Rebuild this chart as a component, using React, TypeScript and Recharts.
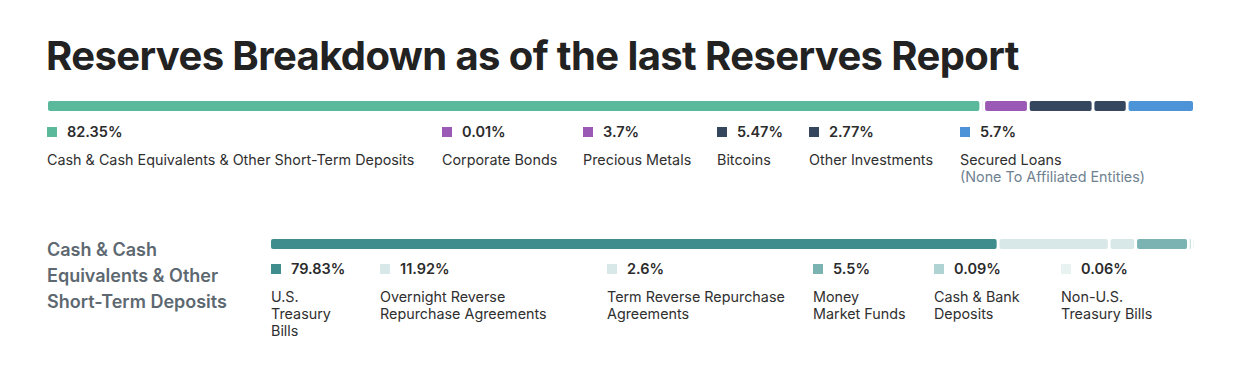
import React from "react";
import { BarChart, Bar, XAxis, YAxis } from "recharts";

const reserveKeys = ["cash", "corporate", "metals", "bitcoin", "other", "loans"];
const reserveShares = [82.35, 0.01, 3.7, 5.47, 2.77, 5.7];
const reserveColors = ["#5ab99b", "#9b59b6", "#9b59b6", "#34475e", "#34475e", "#4c93d8"];
const reserveLabels = [
  ["Cash & Cash Equivalents & Other Short-Term Deposits"],
  ["Corporate Bonds"],
  ["Precious Metals"],
  ["Bitcoins"],
  ["Other Investments"],
  ["Secured Loans"],
];
const reserveNotes = ["", "", "", "", "", "(None To Affiliated Entities)"];
const reserveLegendX = [47, 442, 583, 717, 809, 960];

const cashKeys = ["tbills", "overnight", "term", "mmf", "bank", "nonus"];
const cashShares = [79.83, 11.92, 2.6, 5.5, 0.09, 0.06];
const cashColors = ["#3f8e8d", "#d8e8e8", "#d8e8e8", "#7bb3b3", "#aed3d2", "#e8f2f1"];
const cashLabels = [
  ["U.S.", "Treasury", "Bills"],
  ["Overnight Reverse", "Repurchase Agreements"],
  ["Term Reverse Repurchase", "Agreements"],
  ["Money", "Market Funds"],
  ["Cash & Bank", "Deposits"],
  ["Non-U.S.", "Treasury Bills"],
];
const cashLegendX = [271, 380, 607, 813, 934, 1061];

const FONT = "Inter, 'Noto Sans', sans-serif";
const GAP = 2.8;

function toRow(keys: string[], values: number[]) {
  const row: Record<string, number | string> = { name: "total" };
  keys.forEach((k, i) => (row[k] = values[i]));
  return [row];
}

// flex-like gaps between segments, still positioned from the chart's scale
function gapShape(index: number, count: number, total: number) {
  const s = (total - (count - 1) * GAP) / total;
  return (props: any) => {
    const { x, y, width, height, fill } = props;
    const w = width * s;
    if (!(w > 0)) return <g />;
    return (
      <rect x={x * s + index * GAP} y={y} width={w} height={height} rx={Math.min(2, w / 2)} fill={fill} />
    );
  };
}

function StackBar({ keys, values, colors, width, left, top }: any) {
  const data = toRow(keys, values);
  return (
    <div style={{ position: "absolute", left, top }}>
      <BarChart
        width={width}
        height={10}
        data={data}
        layout="vertical"
        margin={{ top: 0, right: 0, bottom: 0, left: 0 }}
        barCategoryGap={0}
      >
        <XAxis type="number" domain={[0, 100]} hide />
        <YAxis type="category" dataKey="name" hide />
        {keys.map((k: string, i: number) => (
          <Bar
            key={k}
            dataKey={k}
            stackId="a"
            fill={colors[i]}
            isAnimationActive={false}
            shape={gapShape(i, keys.length, width)}
          />
        ))}
      </BarChart>
    </div>
  );
}

function LegendItem({ x, squareTop, valueTop, labelTop, color, value, lines, note }: any) {
  return (
    <>
      <div
        style={{ position: "absolute", left: x, top: squareTop, width: 10, height: 10, background: color }}
      />
      <div
        style={{
          position: "absolute",
          left: x + 20,
          top: valueTop,
          lineHeight: "18px",
          fontSize: 14.5,
          fontWeight: 600,
          color: "#2b2b2b",
          whiteSpace: "nowrap",
        }}
      >
        {value}%
      </div>
      <div
        style={{
          position: "absolute",
          left: x,
          top: labelTop,
          lineHeight: "17px",
          fontSize: 14.35,
          color: "#2f2f2f",
          whiteSpace: "nowrap",
        }}
      >
        {lines.map((l: string) => (
          <div key={l}>{l}</div>
        ))}
        {note ? <div style={{ color: "#6f8291" }}>{note}</div> : null}
      </div>
    </>
  );
}

export default function App() {
  return (
    <div
      style={{
        position: "absolute",
        left: 0,
        top: 0,
        width: 1235,
        height: 371,
        background: "#fff",
        fontFamily: FONT,
        overflow: "hidden",
      }}
    >
      <div
        style={{
          position: "absolute",
          left: 46,
          top: 32,
          lineHeight: "48px",
          fontSize: 40,
          fontWeight: 700,
          color: "#222",
          letterSpacing: -0.6,
          whiteSpace: "nowrap",
        }}
      >
        Reserves Breakdown as of the last Reserves Report
      </div>

      <StackBar keys={reserveKeys} values={reserveShares} colors={reserveColors} width={1145} left={48} top={101} />
      {reserveKeys.map((k, i) => (
        <LegendItem
          key={k}
          x={reserveLegendX[i]}
          squareTop={127}
          valueTop={123}
          labelTop={151}
          color={reserveColors[i]}
          value={reserveShares[i]}
          lines={reserveLabels[i]}
          note={reserveNotes[i]}
        />
      ))}

      <div
        style={{
          position: "absolute",
          left: 47,
          top: 237,
          lineHeight: "26px",
          fontSize: 18,
          fontWeight: 600,
          color: "#5d6871",
          whiteSpace: "nowrap",
        }}
      >
        <div>Cash &amp; Cash</div>
        <div>Equivalents &amp; Other</div>
        <div>Short-Term Deposits</div>
      </div>

      <StackBar keys={cashKeys} values={cashShares} colors={cashColors} width={923} left={271} top={239} />
      {cashKeys.map((k, i) => (
        <LegendItem
          key={k}
          x={cashLegendX[i]}
          squareTop={264}
          valueTop={260}
          labelTop={288}
          color={cashColors[i]}
          value={cashShares[i]}
          lines={cashLabels[i]}
        />
      ))}
    </div>
  );
}
